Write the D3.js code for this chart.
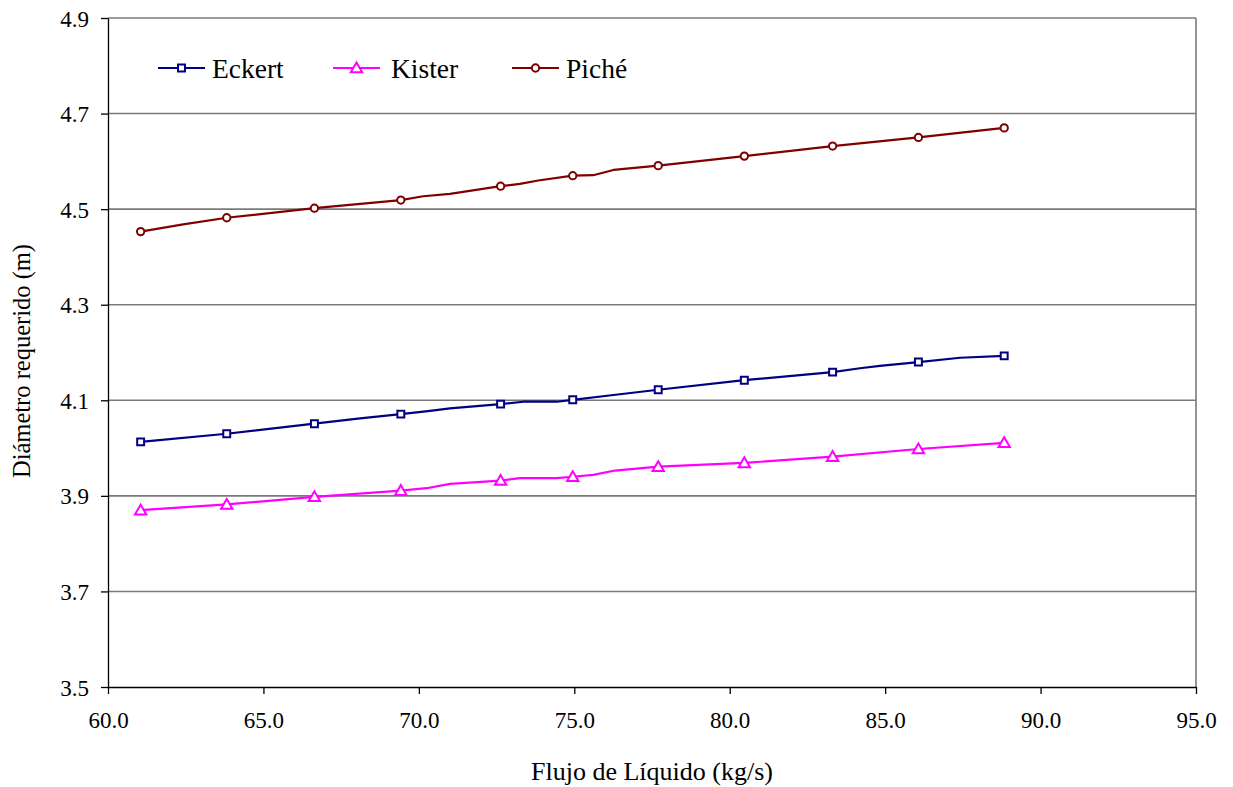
<!DOCTYPE html>
<html><head><meta charset="utf-8">
<script src="https://cdn.jsdelivr.net/npm/d3@7"></script>
<style>
html,body{margin:0;padding:0;background:#fff;}
svg{display:block;}
text{font-family:"Liberation Serif","Times New Roman",serif;fill:#000;}
</style></head>
<body>
<svg id="chart" width="1233" height="787"></svg>
<script>
// ---- data ----
const flujo = [61.05, 63.82, 66.64, 69.42, 72.63, 74.95, 77.70, 80.47, 83.31, 86.07, 88.83];
const eckert = [4.013, 4.030, 4.051, 4.071, 4.092, 4.101, 4.122, 4.142, 4.159, 4.180, 4.193];
const kister = [3.870, 3.882, 3.898, 3.911, 3.932, 3.940, 3.961, 3.969, 3.982, 3.998, 4.011];
const piche  = [4.453, 4.482, 4.502, 4.519, 4.548, 4.570, 4.591, 4.611, 4.632, 4.650, 4.670];
// extra line vertices (no marker)
const eckertBends = [[68.11,4.062],[70.36,4.078],[71.0,4.083],[73.36,4.097],[74.43,4.097],[76.26,4.111],[84.19,4.167],[84.83,4.172],[87.41,4.189]];
const kisterBends = [[70.25,3.916],[71.0,3.925],[73.25,3.937],[74.43,3.937],[75.61,3.944],[76.31,3.953]];
const picheBends  = [[62.42,4.468],[70.14,4.527],[71.0,4.532],[73.25,4.553],[73.84,4.560],[75.61,4.571],[76.26,4.582]];
const seriesNames = ["Eckert", "Kister", "Piché"];
const xTicks = [60, 65, 70, 75, 80, 85, 90, 95];
const yTicks = [3.5, 3.7, 3.9, 4.1, 4.3, 4.5, 4.7, 4.9];
const xTitle = "Flujo de Líquido (kg/s)";
const yTitle = "Diámetro requerido (m)";

// ---- layout ----
const L = 108, R = 1196, T = 18, B = 687;
const svg = d3.select("#chart");
const x = d3.scaleLinear().domain([60, 95]).range([L, R]);
const y = d3.scaleLinear().domain([3.5, 4.9]).range([B, T]);

// gridlines
svg.append("g").selectAll("line").data(yTicks.filter(d => d > 3.5)).join("line")
  .attr("x1", L).attr("x2", R).attr("y1", d => y(d)).attr("y2", d => y(d))
  .attr("stroke", "#7a7a7a").attr("stroke-width", 1.6);
// right border
svg.append("line").attr("x1", R).attr("x2", R).attr("y1", T).attr("y2", B)
  .attr("stroke", "#7a7a7a").attr("stroke-width", 1.6);

// axes
const xAxis = svg.append("g").attr("transform", `translate(0,${B})`)
  .call(d3.axisBottom(x).tickValues(xTicks).tickFormat(d3.format(".1f")).tickSizeInner(7).tickSizeOuter(0));
const yAxis = svg.append("g").attr("transform", `translate(${L},0)`)
  .call(d3.axisLeft(y).tickValues(yTicks).tickFormat(d3.format(".1f")).tickSizeInner(7).tickSizeOuter(0));
[xAxis, yAxis].forEach(g => {
  g.attr("font-family", null);
  g.select(".domain").attr("stroke", "#000").attr("stroke-width", 1.3);
  g.selectAll(".tick line").attr("stroke", "#000").attr("stroke-width", 1.3);
  g.selectAll(".tick text").style("font-family", "'Liberation Serif', serif").attr("font-size", 23).attr("fill", "#000");
});
xAxis.selectAll(".tick text").attr("dy", "0").attr("y", 41);
yAxis.selectAll(".tick text").attr("x", -19).attr("dy", "0.35em");

// titles
svg.append("text").attr("x", (L + R) / 2).attr("y", 780).attr("text-anchor", "middle")
  .attr("font-size", 26).text(xTitle);
svg.append("text").attr("transform", `translate(30,361) rotate(-90)`)
  .attr("text-anchor", "middle").attr("font-size", 24.5).text(yTitle);

// series
const colors = ["#000080", "#FF00FF", "#800000"];
const vals = [eckert, kister, piche];
const bends = [eckertBends, kisterBends, picheBends];
const symbols = [d3.symbolSquare, d3.symbolTriangle, d3.symbolCircle];
const symSize = [48, 56, 42];
const line = d3.line().x(d => x(d[0])).y(d => y(d[1]));

vals.forEach((v, i) => {
  const pts = flujo.map((f, j) => [f, v[j]]).concat(bends[i]).sort((a, b) => a[0] - b[0]);
  svg.append("path").datum(pts).attr("d", line).attr("fill", "none")
    .attr("stroke", colors[i]).attr("stroke-width", 2.2).attr("stroke-linejoin", "round");
  svg.append("g").selectAll("path").data(flujo.map((f, j) => [f, v[j]])).join("path")
    .attr("transform", d => `translate(${x(d[0])},${y(d[1]) + (i === 1 ? 1 : 0)})`)
    .attr("d", d3.symbol().type(symbols[i]).size(symSize[i]))
    .attr("fill", "#fff").attr("stroke", colors[i]).attr("stroke-width", 2);
});

// legend
const legX = [158, 333, 512];
const legTextX = [212, 391, 566];
const legY = 68;
seriesNames.forEach((n, i) => {
  const g = svg.append("g");
  g.append("line").attr("x1", legX[i]).attr("x2", legX[i] + 47).attr("y1", legY).attr("y2", legY)
    .attr("stroke", colors[i]).attr("stroke-width", 2.2);
  g.append("path").attr("transform", `translate(${legX[i] + 23.5},${legY + (i === 1 ? 1 : 0)})`)
    .attr("d", d3.symbol().type(symbols[i]).size(symSize[i]))
    .attr("fill", "#fff").attr("stroke", colors[i]).attr("stroke-width", 2);
  g.append("text").attr("x", legTextX[i]).attr("y", legY).attr("dy", "0.35em")
    .attr("font-size", 27.5).text(n);
});
</script>
</body></html>
